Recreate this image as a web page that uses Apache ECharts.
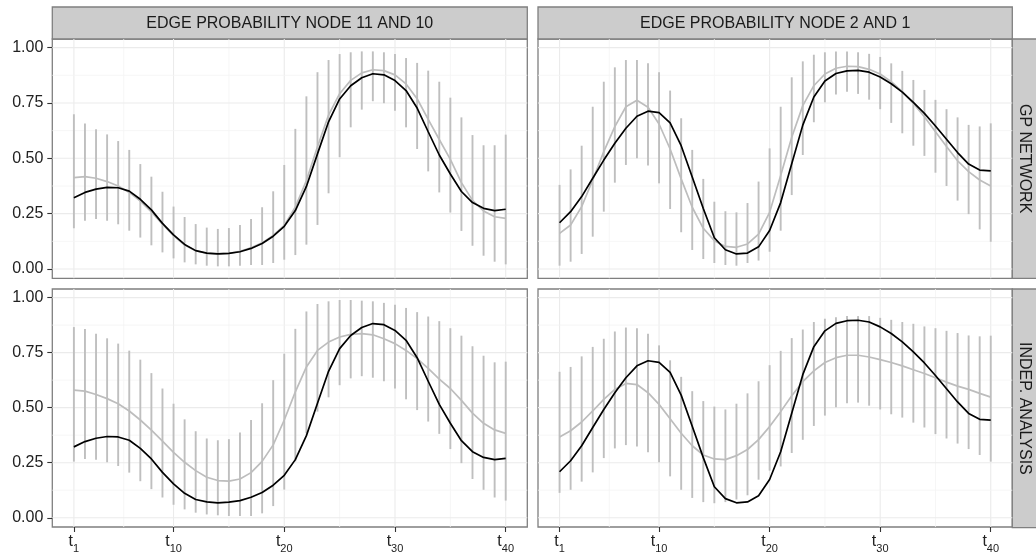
<!DOCTYPE html>
<html><head><meta charset="utf-8">
<script src="https://cdn.jsdelivr.net/npm/echarts@6/dist/echarts.min.js"></script>
<style>html,body{margin:0;padding:0;background:#fff}#c{width:1036px;height:554px}</style>
</head><body><div id="c"></div>
<script>
// ---- data ----
const colStrips = ['EDGE PROBABILITY NODE 11 AND 10', 'EDGE PROBABILITY NODE 2 AND 1'];
const rowStrips = ['GP NETWORK', 'INDEP. ANALYSIS'];
const tIndex = [1,2,3,4,5,6,7,8,9,10,11,12,13,14,15,16,17,18,19,20,21,22,23,24,25,26,27,28,29,30,31,32,33,34,35,36,37,38,39,40];
const xTickValues = [1,10,20,30,40];
const yTickValues = [0,0.25,0.5,0.75,1];
const xMinorValues = [5.5,15,25,35];
const yMinorValues = [0.125,0.375,0.625,0.875];

// true edge probability (black lines)
const trueNode11_10 = [0.322,0.346,0.361,0.369,0.367,0.352,0.315,0.267,0.206,0.154,0.111,0.083,0.072,0.068,0.071,0.078,0.093,0.115,0.148,0.193,0.264,0.373,0.52,0.665,0.768,0.828,0.864,0.882,0.877,0.851,0.806,0.727,0.62,0.515,0.429,0.35,0.300,0.274,0.264,0.270];
const trueNode2_1 = [0.209,0.259,0.327,0.41,0.492,0.568,0.636,0.690,0.713,0.706,0.66,0.557,0.416,0.273,0.141,0.087,0.068,0.072,0.100,0.174,0.300,0.475,0.650,0.777,0.849,0.883,0.895,0.897,0.889,0.867,0.837,0.799,0.753,0.703,0.646,0.586,0.526,0.474,0.447,0.443];

// GP network estimates (grey lines) and intervals
const gpEst11_10 = [0.413,0.417,0.41,0.395,0.375,0.346,0.307,0.258,0.203,0.151,0.108,0.083,0.071,0.068,0.071,0.080,0.096,0.118,0.152,0.197,0.280,0.40,0.552,0.695,0.792,0.852,0.886,0.900,0.896,0.877,0.836,0.769,0.676,0.585,0.495,0.39,0.310,0.262,0.236,0.229];
const gpLo11_10 = [0.184,0.218,0.226,0.218,0.202,0.173,0.142,0.107,0.075,0.048,0.030,0.021,0.015,0.012,0.012,0.015,0.018,0.018,0.027,0.042,0.063,0.110,0.199,0.342,0.505,0.640,0.720,0.758,0.749,0.715,0.640,0.542,0.441,0.346,0.255,0.172,0.105,0.060,0.033,0.021];
const gpHi11_10 = [0.699,0.657,0.631,0.608,0.578,0.538,0.474,0.417,0.349,0.282,0.235,0.203,0.187,0.181,0.185,0.199,0.226,0.279,0.351,0.470,0.633,0.780,0.889,0.944,0.971,0.979,0.983,0.983,0.979,0.971,0.953,0.931,0.896,0.846,0.774,0.685,0.605,0.559,0.559,0.607];

const gpEst2_1 = [0.161,0.199,0.282,0.402,0.53,0.643,0.733,0.762,0.731,0.655,0.542,0.407,0.279,0.184,0.128,0.102,0.098,0.113,0.158,0.256,0.422,0.595,0.738,0.828,0.881,0.907,0.916,0.914,0.902,0.881,0.846,0.801,0.748,0.688,0.62,0.553,0.489,0.44,0.402,0.375];
const gpLo2_1 = [0.015,0.033,0.068,0.146,0.259,0.390,0.470,0.500,0.467,0.387,0.271,0.166,0.086,0.045,0.027,0.018,0.015,0.027,0.038,0.078,0.173,0.334,0.515,0.663,0.753,0.788,0.801,0.791,0.765,0.722,0.660,0.613,0.557,0.511,0.435,0.375,0.309,0.248,0.179,0.123];
const gpHi2_1 = [0.380,0.450,0.557,0.733,0.846,0.911,0.944,0.944,0.929,0.889,0.806,0.681,0.538,0.407,0.304,0.261,0.256,0.298,0.395,0.545,0.733,0.866,0.938,0.968,0.979,0.983,0.983,0.979,0.972,0.958,0.929,0.895,0.854,0.809,0.764,0.722,0.685,0.651,0.644,0.658];

// independent analysis estimates (grey lines) and intervals
const indEst11_10 = [0.580,0.575,0.560,0.541,0.518,0.485,0.444,0.398,0.348,0.297,0.252,0.214,0.184,0.169,0.166,0.176,0.205,0.256,0.331,0.444,0.572,0.685,0.760,0.798,0.821,0.833,0.836,0.831,0.813,0.791,0.760,0.723,0.678,0.630,0.587,0.533,0.475,0.429,0.399,0.383];
const indLo11_10 = [0.255,0.267,0.264,0.252,0.235,0.205,0.166,0.130,0.092,0.059,0.038,0.023,0.015,0.011,0.008,0.008,0.008,0.020,0.053,0.128,0.256,0.384,0.482,0.547,0.602,0.633,0.643,0.636,0.620,0.587,0.538,0.489,0.437,0.381,0.312,0.248,0.176,0.127,0.092,0.078];
const indHi11_10 = [0.866,0.857,0.836,0.815,0.791,0.759,0.718,0.657,0.587,0.518,0.447,0.393,0.360,0.352,0.357,0.387,0.444,0.520,0.625,0.745,0.858,0.937,0.971,0.983,0.989,0.989,0.986,0.983,0.976,0.968,0.953,0.934,0.914,0.893,0.861,0.827,0.779,0.736,0.706,0.709];

const indEst2_1 = [0.367,0.395,0.435,0.485,0.538,0.583,0.610,0.605,0.568,0.515,0.450,0.384,0.327,0.285,0.267,0.264,0.282,0.310,0.355,0.414,0.482,0.554,0.618,0.667,0.705,0.727,0.738,0.738,0.730,0.718,0.705,0.690,0.672,0.655,0.636,0.616,0.598,0.583,0.565,0.548];
const indLo2_1 = [0.113,0.127,0.164,0.206,0.271,0.315,0.330,0.324,0.297,0.252,0.188,0.127,0.090,0.071,0.066,0.071,0.083,0.102,0.173,0.214,0.233,0.294,0.354,0.417,0.464,0.502,0.520,0.523,0.509,0.492,0.470,0.455,0.432,0.410,0.380,0.360,0.337,0.312,0.285,0.255];
const indHi2_1 = [0.663,0.685,0.733,0.776,0.813,0.846,0.864,0.861,0.836,0.783,0.715,0.640,0.575,0.530,0.505,0.492,0.518,0.565,0.620,0.693,0.758,0.816,0.855,0.889,0.904,0.911,0.916,0.916,0.916,0.908,0.899,0.889,0.881,0.869,0.861,0.849,0.839,0.828,0.824,0.827];

// ---- layout ----
const FONT = 'Liberation Sans, Arial, Helvetica, sans-serif';
const panels = [
  {row:0, col:0, tru:trueNode11_10, est:gpEst11_10, lo:gpLo11_10, hi:gpHi11_10},
  {row:0, col:1, tru:trueNode2_1, est:gpEst2_1, lo:gpLo2_1, hi:gpHi2_1},
  {row:1, col:0, tru:trueNode11_10, est:indEst11_10, lo:indLo11_10, hi:indHi11_10},
  {row:1, col:1, tru:trueNode2_1, est:indEst2_1, lo:indLo2_1, hi:indHi2_1}
];
const colLeft = [52.3, 538], colWidth = [475, 474.3];
const rowTop = [39, 289], rowHeight = [239.3, 238.7];

const grids = [], xAxes = [], yAxes = [], series = [];

function gridRender(params, api) {
  const cs = params.coordSys;
  const v = api.value(0), dir = api.value(1), major = api.value(2);
  let shape;
  if (dir === 0) {
    const p = api.coord([v, 0.5]);
    shape = {x1: p[0], y1: cs.y, x2: p[0], y2: cs.y + cs.height};
  } else {
    const p = api.coord([20, v]);
    shape = {x1: cs.x, y1: p[1], x2: cs.x + cs.width, y2: p[1]};
  }
  return {type: 'line', shape: shape, silent: true,
    style: {stroke: major ? '#ebebeb' : '#f4f4f4', lineWidth: major ? 1.1 : 0.8}};
}
function errRender(params, api) {
  const x = api.value(0);
  const p1 = api.coord([x, api.value(1)]);
  const p2 = api.coord([x, api.value(2)]);
  return {type: 'line', shape: {x1: p1[0], y1: p1[1], x2: p2[0], y2: p2[1]},
    style: {stroke: '#bfbfbf', lineWidth: 1.9}};
}
const gridData = [];
xTickValues.forEach(v => gridData.push([v, 0, 1]));
xMinorValues.forEach(v => gridData.push([v, 0, 0]));
yTickValues.forEach(v => gridData.push([v, 1, 1]));
yMinorValues.forEach(v => gridData.push([v, 1, 0]));

panels.forEach((p, i) => {
  grids.push({left: colLeft[p.col], top: rowTop[p.row], width: colWidth[p.col], height: rowHeight[p.row],
    show: true, borderColor: '#7f7f7f', borderWidth: 1.3, backgroundColor: '#fff', containLabel: false});
  const bottom = p.row === 1, left = p.col === 0;
  xAxes.push({type: 'value', gridIndex: i, min: -0.95, max: 41.95, position: 'bottom',
    axisLine: {show: false, onZero: false}, splitLine: {show: false},
    axisTick: {show: bottom, length: 5, lineStyle: {color: '#333', width: 1.1}, customValues: xTickValues},
    axisLabel: {show: bottom, customValues: xTickValues, margin: 7,
      formatter: v => '{t|t}{s|' + v + '}',
      rich: {t: {fontFamily: FONT, fontSize: 16, color: '#222', lineHeight: 18, verticalAlign: 'top'},
             s: {fontFamily: FONT, fontSize: 11, color: '#222', lineHeight: 18, padding: [9, 0, 0, 0], verticalAlign: 'top'}}}
  });
  yAxes.push({type: 'value', gridIndex: i, min: -0.042, max: 1.039, position: 'left',
    axisLine: {show: false, onZero: false}, splitLine: {show: false},
    axisTick: {show: left, length: 5, lineStyle: {color: '#333', width: 1.1}, customValues: yTickValues},
    axisLabel: {show: left, customValues: yTickValues, margin: 9, fontFamily: FONT, fontSize: 16, color: '#222',
      formatter: v => v.toFixed(2)}
  });
  series.push({type: 'custom', xAxisIndex: i, yAxisIndex: i, z: 1, silent: true, renderItem: gridRender,
    encode: {x: 0}, data: gridData, clip: false});
  series.push({type: 'custom', xAxisIndex: i, yAxisIndex: i, z: 2, silent: true, renderItem: errRender,
    encode: {x: 0, y: [1, 2]}, data: tIndex.map((t, k) => [t, p.lo[k], p.hi[k]])});
  series.push({type: 'line', xAxisIndex: i, yAxisIndex: i, z: 3, silent: true, showSymbol: false, symbol: 'none',
    lineStyle: {color: '#bdbdbd', width: 1.7}, data: tIndex.map((t, k) => [t, p.est[k]])});
  series.push({type: 'line', xAxisIndex: i, yAxisIndex: i, z: 4, silent: true, showSymbol: false, symbol: 'none',
    lineStyle: {color: '#000', width: 1.7}, data: tIndex.map((t, k) => [t, p.tru[k]])});
});

// strips
const graphics = [];
colStrips.forEach((s, c) => {
  graphics.push({type: 'rect', shape: {x: colLeft[c], y: 7, width: colWidth[c], height: rowTop[0] - 7},
    style: {fill: '#cccccc', stroke: '#7f7f7f', lineWidth: 1.3}, silent: true});
  graphics.push({type: 'text', x: colLeft[c] + colWidth[c] / 2, y: (7 + rowTop[0]) / 2 + 1,
    style: {text: s, fontFamily: FONT, fontSize: 16, fill: '#1a1a1a', align: 'center', verticalAlign: 'middle'}, silent: true});
});
rowStrips.forEach((s, r) => {
  const x0 = colLeft[1] + colWidth[1];
  graphics.push({type: 'rect', shape: {x: x0, y: rowTop[r], width: 1036 - x0 + 2, height: rowHeight[r]},
    style: {fill: '#cccccc', stroke: '#7f7f7f', lineWidth: 1.3}, silent: true});
  graphics.push({type: 'text', x: x0 + 12, y: rowTop[r] + rowHeight[r] / 2, rotation: -Math.PI / 2,
    style: {text: s, fontFamily: FONT, fontSize: 16, fill: '#1a1a1a', align: 'center', verticalAlign: 'middle'}, silent: true});
});

const chart = echarts.init(document.getElementById('c'), null, {renderer: 'canvas'});
chart.setOption({
  animation: false,
  backgroundColor: '#fff',
  grid: grids, xAxis: xAxes, yAxis: yAxes, series: series, graphic: graphics
});
</script></body></html>
